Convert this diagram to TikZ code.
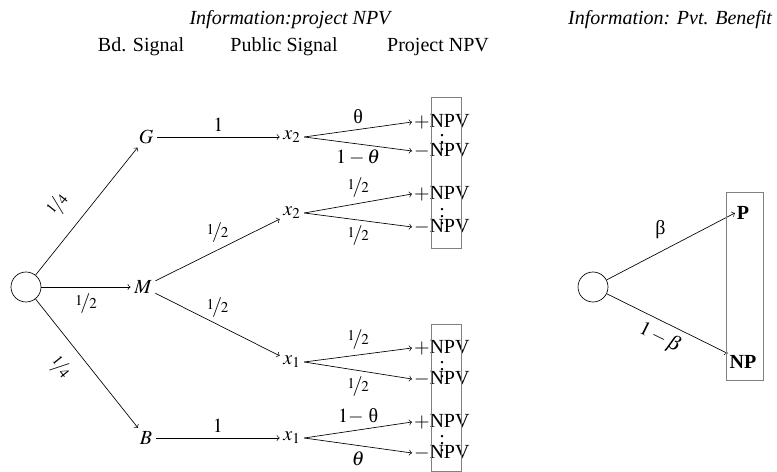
\documentclass[tikz,border=0pt]{standalone}
\usepackage{mathptmx}
\usepackage[no-math]{fontspec}
\setmainfont{Liberation Serif}
\usepackage{nicefrac}
\usepackage{tikz}
\usetikzlibrary{arrows, positioning}

\tikzset{
  every node/.style={font=\fontsize{12}{14}\selectfont},
  chance/.style={draw,circle,minimum size=18pt,inner sep=0},
  sig/.style={inner sep=2pt},
  npv/.style={anchor=west,inner sep=1pt},
  infobox/.style={draw=gray,line width=0.6pt},
  prob/.style={inner sep=4pt}
}

\begin{document}
\begin{tikzpicture}[x=0.6pt,y=-0.6pt,>=to]
    \useasboundingbox (0,0) rectangle (777,472);

    % Titoli
    \node[font=\fontsize{12}{14}\selectfont\itshape] (t1) at (290,20) {Information:project NPV};
    \node[font=\fontsize{12}{14}\selectfont\itshape] (t2) at (670,20) {Information: Pvt. Benefit};
    \foreach \hd/\x in {Bd. Signal/141, Public Signal/284, Project NPV/438}
        \node (h\x) at (\x,47) {\hd};

    % Albero: segnale del board
    \node[chance] (root) at (26,287) {};
    \node[sig] (G) at (146,137) {$G$};
    \node[sig] (M) at (143,287) {$M$};
    \node[sig] (B) at (146,438) {$B$};
    \draw[->] (root) -- node[pos=0.42,above=6pt,sloped] {$\nicefrac{1}{4}$} (G);
    \draw[->] (root) -- node[midway,below,prob] {$\nicefrac{1}{2}$} (M);
    \draw[->] (root) -- node[pos=0.42,below=5pt,sloped] {$\nicefrac{1}{4}$} (B);

    % Segnale pubblico
    \node[sig] (xa) at (292,137) {$x_2$};
    \node[sig] (xb) at (292,213) {$x_2$};
    \node[sig] (xc) at (292,362) {$x_1$};
    \node[sig] (xd) at (292,438) {$x_1$};
    \draw[->] (G) -- node[above] {$1$} (xa);
    \draw[->] (M) -- node[above,prob] {$\nicefrac{1}{2}$} (xb);
    \draw[->] (M) -- node[above,prob] {$\nicefrac{1}{2}$} (xc);
    \draw[->] (B) -- node[above] {$1$} (xd);

    % Project NPV
    \foreach \s/\ya/\yb/\la/\lb in {
        a/122/151/{θ}/{$1-\theta$},
        b/194/227/{$\nicefrac{1}{2}$}/{$\nicefrac{1}{2}$},
        c/348/379/{$\nicefrac{1}{2}$}/{$\nicefrac{1}{2}$},
        d/422/453/{$1-$ θ}/{$\theta$}} {
        \node[npv] (p\s) at (412,\ya) {$+$NPV};
        \node[npv] (n\s) at (412,\yb) {$-$NPV};
        \node[inner sep=0] (dots\s) at (442,{(\ya+\yb)/2+1}) {$\vdots$};
        \draw[->] (x\s.east) -- node[above] {\la} (p\s.west);
        \draw[->] (x\s.east) -- node[below] {\lb} (n\s.west);
    }
    \draw[infobox] (431,98) rectangle (461,249);
    \draw[infobox] (431,325) rectangle (461,471);

    % Beneficio privato
    \node[chance] (root2) at (593,287) {};
    \node[font=\fontsize{12}{14}\selectfont\bfseries,inner sep=1pt] (P) at (743,213) {P};
    \node[font=\fontsize{12}{14}\selectfont\bfseries,inner sep=1pt] (NP) at (743,362) {NP};
    \draw[->] (root2) -- node[pos=0.42,above=4pt] {β} (P.west);
    \draw[->] (root2) -- node[below,sloped] {$1-\beta$} (NP.north west);
    \draw[infobox] (726,193) rectangle (763,381);
\end{tikzpicture}
\end{document}
